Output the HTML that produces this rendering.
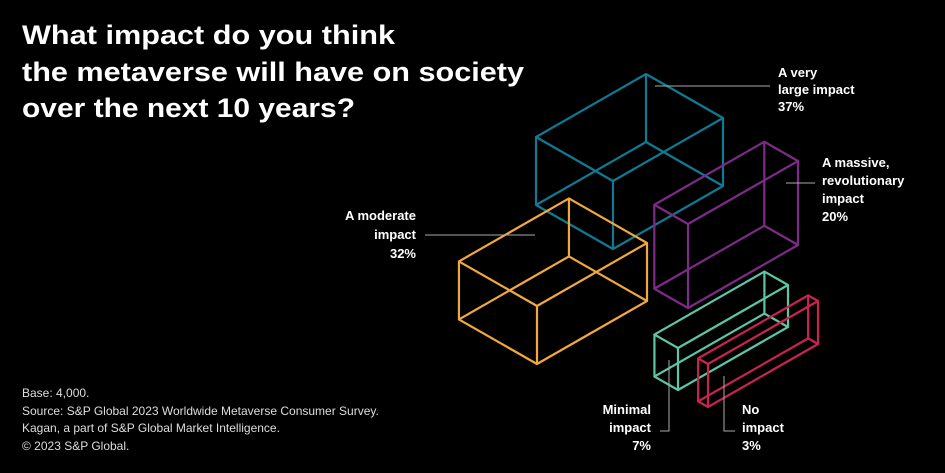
<!DOCTYPE html>
<html><head><meta charset="utf-8"><style>
html,body{margin:0;padding:0;background:#000;}
svg{display:block;font-family:"Liberation Sans",sans-serif;}
</style></head><body>
<svg id="chart" width="945" height="473" viewBox="0 0 945 473">
<rect width="945" height="473" fill="#000"/>
<g fill="#fff" font-weight="bold" font-size="27">
<text x="22" y="44" textLength="373" lengthAdjust="spacingAndGlyphs">What impact do you think</text>
<text x="22" y="81" textLength="502" lengthAdjust="spacingAndGlyphs">the metaverse will have on society</text>
<text x="22" y="117" textLength="333" lengthAdjust="spacingAndGlyphs">over the next 10 years?</text>
</g>
<g fill="#ddd" font-size="12">
<text x="22" y="397">Base: 4,000.</text>
<text x="22" y="415">Source: S&amp;P Global 2023 Worldwide Metaverse Consumer Survey.</text>
<text x="22" y="432">Kagan, a part of S&amp;P Global Market Intelligence.</text>
<text x="22" y="450">© 2023 S&amp;P Global.</text>
</g>
<g id="boxes"></g>
<g fill="#fff" font-weight="bold" font-size="13" stroke-width="1">
<line x1="655" y1="86" x2="770" y2="86" stroke="#aaa"/>
<text x="778" y="77"><tspan x="778">A very</tspan><tspan x="778" dy="17">large impact</tspan><tspan x="778" dy="17">37%</tspan></text>
<line x1="786" y1="183" x2="815" y2="183" stroke="#aaa"/>
<text x="822" y="167"><tspan x="822">A massive,</tspan><tspan x="822" dy="18">revolutionary</tspan><tspan x="822" dy="18">impact</tspan><tspan x="822" dy="18">20%</tspan></text>
<line x1="425" y1="235" x2="535" y2="235" stroke="#aaa"/>
<text x="416" y="220" text-anchor="end"><tspan x="416">A moderate</tspan><tspan x="416" dy="19">impact</tspan><tspan x="416" dy="19">32%</tspan></text>
<polyline points="669,360 669,431 660,431" fill="none" stroke="#aaa"/>
<text x="651" y="414" text-anchor="end"><tspan x="651">Minimal</tspan><tspan x="651" dy="18">impact</tspan><tspan x="651" dy="18">7%</tspan></text>
<polyline points="724,376 724,431 735,431" fill="none" stroke="#aaa"/>
<text x="742" y="414"><tspan x="742">No</tspan><tspan x="742" dy="18">impact</tspan><tspan x="742" dy="18">3%</tspan></text>
</g>
</svg>
<script>
const categories = ["A very large impact", "A moderate impact", "A massive, revolutionary impact", "Minimal impact", "No impact"];
const values = [37, 32, 20, 7, 3];
const boxHeights = [68, 58, 84, 42, 43];
const colors = ["#0f7a94", "#f2a83c", "#7d2a88", "#5cc6a7", "#c9234f"];
const anchors = [[613,181],[537,306],[688,224],[678,348],[708,364]];
const VOL = 163; // depth*height per percent
const RIGHT = [110, -63];
const LEFTU = [-0.868, -0.496];
const g = document.getElementById('boxes');
const ns = 'http://www.w3.org/2000/svg';
values.forEach((v, i) => {
  const h = boxHeights[i];
  const d = VOL * v / h;
  const [fx, fy] = anchors[i];
  const F = [fx, fy], R = [fx + RIGHT[0], fy + RIGHT[1]];
  const L = [fx + LEFTU[0]*d, fy + LEFTU[1]*d];
  const B = [R[0] + LEFTU[0]*d, R[1] + LEFTU[1]*d];
  const top = [F, R, B, L];
  const bot = top.map(p => [p[0], p[1] + h]);
  const grp = document.createElementNS(ns, 'g');
  
  
  grp.setAttribute('stroke', colors[i]);
  grp.setAttribute('stroke-width', '2.2');
  grp.setAttribute('fill', 'none');
  grp.setAttribute('stroke-linejoin', 'round');
  const mk = (pts) => {
    const p = document.createElementNS(ns, 'polygon');
    p.setAttribute('points', pts.map(q => q.join(',')).join(' '));
    
    
    grp.appendChild(p);
  };
  mk(top); mk(bot);
  for (let k = 0; k < 4; k++) {
    const ln = document.createElementNS(ns, 'line');
    ln.setAttribute('x1', top[k][0]); ln.setAttribute('y1', top[k][1]);
    ln.setAttribute('x2', bot[k][0]); ln.setAttribute('y2', bot[k][1]);
    
    
    grp.appendChild(ln);
  }
  g.appendChild(grp);
});
</script>
</body></html>
